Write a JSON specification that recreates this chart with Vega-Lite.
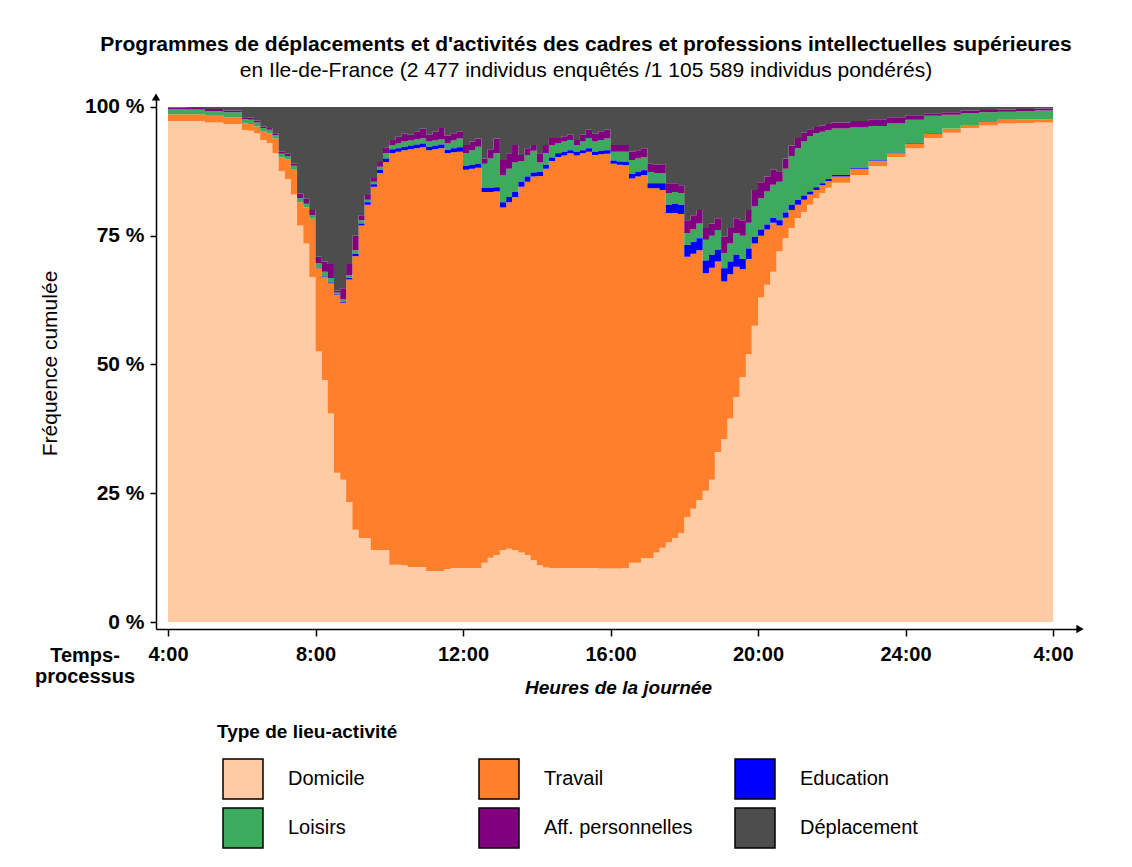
{
"$schema":"https://vega.github.io/schema/vega-lite/v6.json",
"width":924,"height":532,
"autosize":"none",
"padding":{"left":156,"top":97,"right":52,"bottom":238},
"background":"white",
"title":{"text":"Programmes de déplacements et d'activités des cadres et professions intellectuelles supérieures","subtitle":"en Ile-de-France (2 477 individus enquêtés /1 105 589 individus pondérés)","anchor":"middle","frame":"group","dx":-32,"offset":12,"font":"Liberation Sans","fontSize":21,"fontWeight":"bold","color":"black","subtitleFont":"Liberation Sans","subtitleFontSize":21,"subtitleFontWeight":"normal","subtitleColor":"black","subtitlePadding":5},
"config":{"view":{"stroke":null},"font":"Liberation Sans"},
"layer":[
{"data":{"values":[
{"t":4,"c":"Domicile","v":97.3},{"t":4,"c":"Travail","v":1.3},{"t":4,"c":"Loisirs","v":1.0},{"t":4,"c":"Aff. personnelles","v":0.3},{"t":4,"c":"Déplacement","v":0.1},
{"t":4.5,"c":"Domicile","v":97.3},{"t":4.5,"c":"Travail","v":1.3},{"t":4.5,"c":"Loisirs","v":0.9},{"t":4.5,"c":"Aff. personnelles","v":0.3},{"t":4.5,"c":"Déplacement","v":0.2},
{"t":5,"c":"Domicile","v":97.0},{"t":5,"c":"Travail","v":1.3},{"t":5,"c":"Loisirs","v":0.9},{"t":5,"c":"Aff. personnelles","v":0.4},{"t":5,"c":"Déplacement","v":0.4},
{"t":5.5,"c":"Domicile","v":96.7},{"t":5.5,"c":"Travail","v":1.3},{"t":5.5,"c":"Loisirs","v":1.0},{"t":5.5,"c":"Aff. personnelles","v":0.3},{"t":5.5,"c":"Déplacement","v":0.7},
{"t":6,"c":"Domicile","v":95.5},{"t":6,"c":"Travail","v":1.3},{"t":6,"c":"Loisirs","v":0.8},{"t":6,"c":"Aff. personnelles","v":0.4},{"t":6,"c":"Déplacement","v":2.0},
{"t":6.17,"c":"Domicile","v":95.4},{"t":6.17,"c":"Travail","v":1.3},{"t":6.17,"c":"Loisirs","v":0.8},{"t":6.17,"c":"Aff. personnelles","v":0.4},{"t":6.17,"c":"Déplacement","v":2.1},
{"t":6.33,"c":"Domicile","v":94.9},{"t":6.33,"c":"Travail","v":1.3},{"t":6.33,"c":"Loisirs","v":0.8},{"t":6.33,"c":"Aff. personnelles","v":0.4},{"t":6.33,"c":"Déplacement","v":2.6},
{"t":6.5,"c":"Domicile","v":93.6},{"t":6.5,"c":"Travail","v":1.6},{"t":6.5,"c":"Loisirs","v":0.7},{"t":6.5,"c":"Aff. personnelles","v":0.3},{"t":6.5,"c":"Déplacement","v":3.8},
{"t":6.67,"c":"Domicile","v":93.0},{"t":6.67,"c":"Travail","v":1.9},{"t":6.67,"c":"Loisirs","v":0.7},{"t":6.67,"c":"Aff. personnelles","v":0.3},{"t":6.67,"c":"Déplacement","v":4.1},
{"t":6.83,"c":"Domicile","v":91.0},{"t":6.83,"c":"Travail","v":2.9},{"t":6.83,"c":"Loisirs","v":0.6},{"t":6.83,"c":"Aff. personnelles","v":0.4},{"t":6.83,"c":"Déplacement","v":5.1},
{"t":7,"c":"Domicile","v":87.5},{"t":7,"c":"Travail","v":2.7},{"t":7,"c":"Loisirs","v":0.7},{"t":7,"c":"Aff. personnelles","v":0.4},{"t":7,"c":"Déplacement","v":8.7},
{"t":7.17,"c":"Domicile","v":86.0},{"t":7.17,"c":"Travail","v":3.8},{"t":7.17,"c":"Loisirs","v":0.7},{"t":7.17,"c":"Aff. personnelles","v":0.4},{"t":7.17,"c":"Déplacement","v":9.1},
{"t":7.33,"c":"Domicile","v":83.0},{"t":7.33,"c":"Travail","v":4.8},{"t":7.33,"c":"Loisirs","v":0.8},{"t":7.33,"c":"Aff. personnelles","v":0.4},{"t":7.33,"c":"Déplacement","v":11.0},
{"t":7.5,"c":"Domicile","v":77.0},{"t":7.5,"c":"Travail","v":4.5},{"t":7.5,"c":"Loisirs","v":0.8},{"t":7.5,"c":"Aff. personnelles","v":0.9},{"t":7.5,"c":"Déplacement","v":16.8},
{"t":7.67,"c":"Domicile","v":73.5},{"t":7.67,"c":"Travail","v":7.0},{"t":7.67,"c":"Loisirs","v":0.7},{"t":7.67,"c":"Aff. personnelles","v":1.0},{"t":7.67,"c":"Déplacement","v":17.8},
{"t":7.83,"c":"Domicile","v":67.0},{"t":7.83,"c":"Travail","v":11.3},{"t":7.83,"c":"Education","v":0},{"t":7.83,"c":"Loisirs","v":0.7},{"t":7.83,"c":"Aff. personnelles","v":1.0},{"t":7.83,"c":"Déplacement","v":20.0},
{"t":8,"c":"Domicile","v":52.5},{"t":8,"c":"Travail","v":16.2},{"t":8,"c":"Education","v":0.1},{"t":8,"c":"Loisirs","v":0.9},{"t":8,"c":"Aff. personnelles","v":1.2},{"t":8,"c":"Déplacement","v":29.1},
{"t":8.17,"c":"Domicile","v":47.0},{"t":8.17,"c":"Travail","v":20.0},{"t":8.17,"c":"Education","v":0.1},{"t":8.17,"c":"Loisirs","v":0.9},{"t":8.17,"c":"Aff. personnelles","v":2.0},{"t":8.17,"c":"Déplacement","v":30.0},
{"t":8.33,"c":"Domicile","v":40.5},{"t":8.33,"c":"Travail","v":25.3},{"t":8.33,"c":"Education","v":0.1},{"t":8.33,"c":"Loisirs","v":0.9},{"t":8.33,"c":"Aff. personnelles","v":2.7},{"t":8.33,"c":"Déplacement","v":30.5},
{"t":8.5,"c":"Domicile","v":29.0},{"t":8.5,"c":"Travail","v":34.5},{"t":8.5,"c":"Education","v":0.1},{"t":8.5,"c":"Loisirs","v":0.4},{"t":8.5,"c":"Aff. personnelles","v":0.3},{"t":8.5,"c":"Déplacement","v":35.7},
{"t":8.67,"c":"Domicile","v":27.6},{"t":8.67,"c":"Travail","v":34.4},{"t":8.67,"c":"Education","v":0.2},{"t":8.67,"c":"Loisirs","v":0.4},{"t":8.67,"c":"Aff. personnelles","v":2.2},{"t":8.67,"c":"Déplacement","v":35.2},
{"t":8.83,"c":"Domicile","v":23.3},{"t":8.83,"c":"Travail","v":43.2},{"t":8.83,"c":"Education","v":0.3},{"t":8.83,"c":"Loisirs","v":0.6},{"t":8.83,"c":"Aff. personnelles","v":2.1},{"t":8.83,"c":"Déplacement","v":30.5},
{"t":9,"c":"Domicile","v":17.9},{"t":9,"c":"Travail","v":53.1},{"t":9,"c":"Education","v":0.5},{"t":9,"c":"Loisirs","v":0.7},{"t":9,"c":"Aff. personnelles","v":2.8},{"t":9,"c":"Déplacement","v":25.0},
{"t":9.17,"c":"Domicile","v":16.3},{"t":9.17,"c":"Travail","v":60.7},{"t":9.17,"c":"Education","v":0.4},{"t":9.17,"c":"Loisirs","v":0.6},{"t":9.17,"c":"Aff. personnelles","v":1.0},{"t":9.17,"c":"Déplacement","v":21.0},
{"t":9.33,"c":"Domicile","v":16.3},{"t":9.33,"c":"Travail","v":64.7},{"t":9.33,"c":"Education","v":0.5},{"t":9.33,"c":"Loisirs","v":0.5},{"t":9.33,"c":"Aff. personnelles","v":0.9},{"t":9.33,"c":"Déplacement","v":17.1},
{"t":9.5,"c":"Domicile","v":14.0},{"t":9.5,"c":"Travail","v":70.5},{"t":9.5,"c":"Education","v":0.5},{"t":9.5,"c":"Loisirs","v":0.5},{"t":9.5,"c":"Aff. personnelles","v":0.7},{"t":9.5,"c":"Déplacement","v":13.8},
{"t":9.67,"c":"Domicile","v":14.0},{"t":9.67,"c":"Travail","v":73.2},{"t":9.67,"c":"Education","v":0.6},{"t":9.67,"c":"Loisirs","v":0.6},{"t":9.67,"c":"Aff. personnelles","v":0.9},{"t":9.67,"c":"Déplacement","v":10.7},
{"t":9.83,"c":"Domicile","v":14.0},{"t":9.83,"c":"Travail","v":75.3},{"t":9.83,"c":"Education","v":0.7},{"t":9.83,"c":"Loisirs","v":1.0},{"t":9.83,"c":"Aff. personnelles","v":1.2},{"t":9.83,"c":"Déplacement","v":7.8},
{"t":10,"c":"Domicile","v":11.1},{"t":10,"c":"Travail","v":79.9},{"t":10,"c":"Education","v":0.8},{"t":10,"c":"Loisirs","v":0.8},{"t":10,"c":"Aff. personnelles","v":1.0},{"t":10,"c":"Déplacement","v":6.4},
{"t":10.17,"c":"Domicile","v":11.1},{"t":10.17,"c":"Travail","v":80.2},{"t":10.17,"c":"Education","v":0.7},{"t":10.17,"c":"Loisirs","v":0.9},{"t":10.17,"c":"Aff. personnelles","v":1.3},{"t":10.17,"c":"Déplacement","v":5.8},
{"t":10.33,"c":"Domicile","v":11.0},{"t":10.33,"c":"Travail","v":80.6},{"t":10.33,"c":"Education","v":0.7},{"t":10.33,"c":"Loisirs","v":1.0},{"t":10.33,"c":"Aff. personnelles","v":1.5},{"t":10.33,"c":"Déplacement","v":5.2},
{"t":10.5,"c":"Domicile","v":10.7},{"t":10.5,"c":"Travail","v":81.1},{"t":10.5,"c":"Education","v":0.7},{"t":10.5,"c":"Loisirs","v":1.0},{"t":10.5,"c":"Aff. personnelles","v":1.1},{"t":10.5,"c":"Déplacement","v":5.4},
{"t":10.67,"c":"Domicile","v":10.7},{"t":10.67,"c":"Travail","v":81.3},{"t":10.67,"c":"Education","v":0.7},{"t":10.67,"c":"Loisirs","v":1.0},{"t":10.67,"c":"Aff. personnelles","v":1.5},{"t":10.67,"c":"Déplacement","v":4.8},
{"t":10.83,"c":"Domicile","v":10.7},{"t":10.83,"c":"Travail","v":81.5},{"t":10.83,"c":"Education","v":0.7},{"t":10.83,"c":"Loisirs","v":1.0},{"t":10.83,"c":"Aff. personnelles","v":1.9},{"t":10.83,"c":"Déplacement","v":4.2},
{"t":11,"c":"Domicile","v":9.9},{"t":11,"c":"Travail","v":81.7},{"t":11,"c":"Education","v":0.7},{"t":11,"c":"Loisirs","v":1.0},{"t":11,"c":"Aff. personnelles","v":1.3},{"t":11,"c":"Déplacement","v":5.4},
{"t":11.17,"c":"Domicile","v":9.9},{"t":11.17,"c":"Travail","v":81.9},{"t":11.17,"c":"Education","v":0.7},{"t":11.17,"c":"Loisirs","v":1.0},{"t":11.17,"c":"Aff. personnelles","v":1.7},{"t":11.17,"c":"Déplacement","v":4.8},
{"t":11.33,"c":"Domicile","v":9.9},{"t":11.33,"c":"Travail","v":82.1},{"t":11.33,"c":"Education","v":0.7},{"t":11.33,"c":"Loisirs","v":1.0},{"t":11.33,"c":"Aff. personnelles","v":2.2},{"t":11.33,"c":"Déplacement","v":4.1},
{"t":11.5,"c":"Domicile","v":10.3},{"t":11.5,"c":"Travail","v":80.7},{"t":11.5,"c":"Education","v":0.7},{"t":11.5,"c":"Loisirs","v":1.3},{"t":11.5,"c":"Aff. personnelles","v":1.4},{"t":11.5,"c":"Déplacement","v":5.6},
{"t":11.67,"c":"Domicile","v":10.5},{"t":11.67,"c":"Travail","v":80.7},{"t":11.67,"c":"Education","v":0.8},{"t":11.67,"c":"Loisirs","v":1.5},{"t":11.67,"c":"Aff. personnelles","v":1.4},{"t":11.67,"c":"Déplacement","v":5.1},
{"t":11.83,"c":"Domicile","v":10.5},{"t":11.83,"c":"Travail","v":80.8},{"t":11.83,"c":"Education","v":0.9},{"t":11.83,"c":"Loisirs","v":1.7},{"t":11.83,"c":"Aff. personnelles","v":1.3},{"t":11.83,"c":"Déplacement","v":4.8},
{"t":12,"c":"Domicile","v":10.5},{"t":12,"c":"Travail","v":77.3},{"t":12,"c":"Education","v":0.8},{"t":12,"c":"Loisirs","v":2.4},{"t":12,"c":"Aff. personnelles","v":1.6},{"t":12,"c":"Déplacement","v":7.4},
{"t":12.17,"c":"Domicile","v":10.5},{"t":12.17,"c":"Travail","v":77.5},{"t":12.17,"c":"Education","v":0.8},{"t":12.17,"c":"Loisirs","v":2.8},{"t":12.17,"c":"Aff. personnelles","v":1.7},{"t":12.17,"c":"Déplacement","v":6.7},
{"t":12.33,"c":"Domicile","v":10.5},{"t":12.33,"c":"Travail","v":77.7},{"t":12.33,"c":"Education","v":0.8},{"t":12.33,"c":"Loisirs","v":3.3},{"t":12.33,"c":"Aff. personnelles","v":1.6},{"t":12.33,"c":"Déplacement","v":6.1},
{"t":12.5,"c":"Domicile","v":11.5},{"t":12.5,"c":"Travail","v":72.0},{"t":12.5,"c":"Education","v":0.8},{"t":12.5,"c":"Loisirs","v":4.7},{"t":12.5,"c":"Aff. personnelles","v":1.0},{"t":12.5,"c":"Déplacement","v":10.0},
{"t":12.67,"c":"Domicile","v":12.5},{"t":12.67,"c":"Travail","v":71.0},{"t":12.67,"c":"Education","v":0.8},{"t":12.67,"c":"Loisirs","v":5.7},{"t":12.67,"c":"Aff. personnelles","v":1.8},{"t":12.67,"c":"Déplacement","v":8.2},
{"t":12.83,"c":"Domicile","v":13.0},{"t":12.83,"c":"Travail","v":70.6},{"t":12.83,"c":"Education","v":0.8},{"t":12.83,"c":"Loisirs","v":6.6},{"t":12.83,"c":"Aff. personnelles","v":2.9},{"t":12.83,"c":"Déplacement","v":6.1},
{"t":13,"c":"Domicile","v":14.0},{"t":13,"c":"Travail","v":66.5},{"t":13,"c":"Education","v":1.0},{"t":13,"c":"Loisirs","v":5.3},{"t":13,"c":"Aff. personnelles","v":2.9},{"t":13,"c":"Déplacement","v":10.3},
{"t":13.17,"c":"Domicile","v":14.2},{"t":13.17,"c":"Travail","v":67.3},{"t":13.17,"c":"Education","v":1.0},{"t":13.17,"c":"Loisirs","v":5.5},{"t":13.17,"c":"Aff. personnelles","v":3.0},{"t":13.17,"c":"Déplacement","v":9.0},
{"t":13.33,"c":"Domicile","v":14.0},{"t":13.33,"c":"Travail","v":68.5},{"t":13.33,"c":"Education","v":1.0},{"t":13.33,"c":"Loisirs","v":5.7},{"t":13.33,"c":"Aff. personnelles","v":3.4},{"t":13.33,"c":"Déplacement","v":7.4},
{"t":13.5,"c":"Domicile","v":13.5},{"t":13.5,"c":"Travail","v":71.0},{"t":13.5,"c":"Education","v":1.0},{"t":13.5,"c":"Loisirs","v":4.0},{"t":13.5,"c":"Aff. personnelles","v":1.2},{"t":13.5,"c":"Déplacement","v":9.3},
{"t":13.67,"c":"Domicile","v":13.0},{"t":13.67,"c":"Travail","v":72.5},{"t":13.67,"c":"Education","v":1.0},{"t":13.67,"c":"Loisirs","v":4.2},{"t":13.67,"c":"Aff. personnelles","v":1.3},{"t":13.67,"c":"Déplacement","v":8.0},
{"t":13.83,"c":"Domicile","v":12.0},{"t":13.83,"c":"Travail","v":74.5},{"t":13.83,"c":"Education","v":0.8},{"t":13.83,"c":"Loisirs","v":4.2},{"t":13.83,"c":"Aff. personnelles","v":1.1},{"t":13.83,"c":"Déplacement","v":7.4},
{"t":14,"c":"Domicile","v":11.0},{"t":14,"c":"Travail","v":75.6},{"t":14,"c":"Education","v":0.8},{"t":14,"c":"Loisirs","v":1.8},{"t":14,"c":"Aff. personnelles","v":1.8},{"t":14,"c":"Déplacement","v":9.0},
{"t":14.17,"c":"Domicile","v":10.6},{"t":14.17,"c":"Travail","v":77.4},{"t":14.17,"c":"Education","v":0.8},{"t":14.17,"c":"Loisirs","v":2.2},{"t":14.17,"c":"Aff. personnelles","v":1.6},{"t":14.17,"c":"Déplacement","v":7.4},
{"t":14.33,"c":"Domicile","v":10.5},{"t":14.33,"c":"Travail","v":79.0},{"t":14.33,"c":"Education","v":0.7},{"t":14.33,"c":"Loisirs","v":2.4},{"t":14.33,"c":"Aff. personnelles","v":1.4},{"t":14.33,"c":"Déplacement","v":6.0},
{"t":14.5,"c":"Domicile","v":10.5},{"t":14.5,"c":"Travail","v":79.8},{"t":14.5,"c":"Education","v":0.7},{"t":14.5,"c":"Loisirs","v":2.0},{"t":14.5,"c":"Aff. personnelles","v":1.0},{"t":14.5,"c":"Déplacement","v":6.0},
{"t":14.67,"c":"Domicile","v":10.5},{"t":14.67,"c":"Travail","v":80.1},{"t":14.67,"c":"Education","v":0.7},{"t":14.67,"c":"Loisirs","v":2.0},{"t":14.67,"c":"Aff. personnelles","v":1.0},{"t":14.67,"c":"Déplacement","v":5.7},
{"t":14.83,"c":"Domicile","v":10.5},{"t":14.83,"c":"Travail","v":80.5},{"t":14.83,"c":"Education","v":0.6},{"t":14.83,"c":"Loisirs","v":2.0},{"t":14.83,"c":"Aff. personnelles","v":1.0},{"t":14.83,"c":"Déplacement","v":5.4},
{"t":15,"c":"Domicile","v":10.5},{"t":15,"c":"Travail","v":80.1},{"t":15,"c":"Education","v":0.7},{"t":15,"c":"Loisirs","v":1.3},{"t":15,"c":"Aff. personnelles","v":1.0},{"t":15,"c":"Déplacement","v":6.4},
{"t":15.17,"c":"Domicile","v":10.5},{"t":15.17,"c":"Travail","v":80.5},{"t":15.17,"c":"Education","v":0.6},{"t":15.17,"c":"Loisirs","v":1.7},{"t":15.17,"c":"Aff. personnelles","v":1.3},{"t":15.17,"c":"Déplacement","v":5.4},
{"t":15.33,"c":"Domicile","v":10.5},{"t":15.33,"c":"Travail","v":80.8},{"t":15.33,"c":"Education","v":0.7},{"t":15.33,"c":"Loisirs","v":2.0},{"t":15.33,"c":"Aff. personnelles","v":1.6},{"t":15.33,"c":"Déplacement","v":4.4},
{"t":15.5,"c":"Domicile","v":10.5},{"t":15.5,"c":"Travail","v":80.2},{"t":15.5,"c":"Education","v":0.6},{"t":15.5,"c":"Loisirs","v":2.0},{"t":15.5,"c":"Aff. personnelles","v":1.5},{"t":15.5,"c":"Déplacement","v":5.2},
{"t":15.67,"c":"Domicile","v":10.4},{"t":15.67,"c":"Travail","v":80.4},{"t":15.67,"c":"Education","v":0.7},{"t":15.67,"c":"Loisirs","v":2.1},{"t":15.67,"c":"Aff. personnelles","v":1.7},{"t":15.67,"c":"Déplacement","v":4.7},
{"t":15.83,"c":"Domicile","v":10.4},{"t":15.83,"c":"Travail","v":80.5},{"t":15.83,"c":"Education","v":0.7},{"t":15.83,"c":"Loisirs","v":2.3},{"t":15.83,"c":"Aff. personnelles","v":1.7},{"t":15.83,"c":"Déplacement","v":4.4},
{"t":16,"c":"Domicile","v":10.4},{"t":16,"c":"Travail","v":78.6},{"t":16,"c":"Education","v":0.6},{"t":16,"c":"Loisirs","v":1.7},{"t":16,"c":"Aff. personnelles","v":1.3},{"t":16,"c":"Déplacement","v":7.4},
{"t":16.17,"c":"Domicile","v":10.4},{"t":16.17,"c":"Travail","v":78.4},{"t":16.17,"c":"Education","v":0.6},{"t":16.17,"c":"Loisirs","v":1.9},{"t":16.17,"c":"Aff. personnelles","v":1.3},{"t":16.17,"c":"Déplacement","v":7.4},
{"t":16.33,"c":"Domicile","v":10.5},{"t":16.33,"c":"Travail","v":78.2},{"t":16.33,"c":"Education","v":0.6},{"t":16.33,"c":"Loisirs","v":2.0},{"t":16.33,"c":"Aff. personnelles","v":1.3},{"t":16.33,"c":"Déplacement","v":7.4},
{"t":16.5,"c":"Domicile","v":11.5},{"t":16.5,"c":"Travail","v":74.6},{"t":16.5,"c":"Education","v":0.9},{"t":16.5,"c":"Loisirs","v":2.7},{"t":16.5,"c":"Aff. personnelles","v":1.6},{"t":16.5,"c":"Déplacement","v":8.7},
{"t":16.67,"c":"Domicile","v":11.5},{"t":16.67,"c":"Travail","v":75.0},{"t":16.67,"c":"Education","v":0.9},{"t":16.67,"c":"Loisirs","v":2.6},{"t":16.67,"c":"Aff. personnelles","v":1.6},{"t":16.67,"c":"Déplacement","v":8.4},
{"t":16.83,"c":"Domicile","v":12.4},{"t":16.83,"c":"Travail","v":74.4},{"t":16.83,"c":"Education","v":0.9},{"t":16.83,"c":"Loisirs","v":2.6},{"t":16.83,"c":"Aff. personnelles","v":1.7},{"t":16.83,"c":"Déplacement","v":8.0},
{"t":17,"c":"Domicile","v":12.4},{"t":17,"c":"Travail","v":71.8},{"t":17,"c":"Education","v":1.0},{"t":17,"c":"Loisirs","v":2.2},{"t":17,"c":"Aff. personnelles","v":1.6},{"t":17,"c":"Déplacement","v":11.0},
{"t":17.17,"c":"Domicile","v":13.5},{"t":17.17,"c":"Travail","v":70.7},{"t":17.17,"c":"Education","v":1.0},{"t":17.17,"c":"Loisirs","v":2.0},{"t":17.17,"c":"Aff. personnelles","v":1.6},{"t":17.17,"c":"Déplacement","v":11.2},
{"t":17.33,"c":"Domicile","v":14.4},{"t":17.33,"c":"Travail","v":69.5},{"t":17.33,"c":"Education","v":1.3},{"t":17.33,"c":"Loisirs","v":1.9},{"t":17.33,"c":"Aff. personnelles","v":1.8},{"t":17.33,"c":"Déplacement","v":11.1},
{"t":17.5,"c":"Domicile","v":15.5},{"t":17.5,"c":"Travail","v":63.9},{"t":17.5,"c":"Education","v":1.6},{"t":17.5,"c":"Loisirs","v":2.3},{"t":17.5,"c":"Aff. personnelles","v":1.9},{"t":17.5,"c":"Déplacement","v":14.8},
{"t":17.67,"c":"Domicile","v":16.3},{"t":17.67,"c":"Travail","v":63.1},{"t":17.67,"c":"Education","v":1.8},{"t":17.67,"c":"Loisirs","v":2.3},{"t":17.67,"c":"Aff. personnelles","v":1.7},{"t":17.67,"c":"Déplacement","v":14.8},
{"t":17.83,"c":"Domicile","v":17.3},{"t":17.83,"c":"Travail","v":61.9},{"t":17.83,"c":"Education","v":1.8},{"t":17.83,"c":"Loisirs","v":2.3},{"t":17.83,"c":"Aff. personnelles","v":1.5},{"t":17.83,"c":"Déplacement","v":15.2},
{"t":18,"c":"Domicile","v":20.4},{"t":18,"c":"Travail","v":50.5},{"t":18,"c":"Education","v":2.3},{"t":18,"c":"Loisirs","v":2.3},{"t":18,"c":"Aff. personnelles","v":2.5},{"t":18,"c":"Déplacement","v":22.0},
{"t":18.17,"c":"Domicile","v":22.0},{"t":18.17,"c":"Travail","v":49.5},{"t":18.17,"c":"Education","v":2.3},{"t":18.17,"c":"Loisirs","v":2.5},{"t":18.17,"c":"Aff. personnelles","v":2.7},{"t":18.17,"c":"Déplacement","v":21.0},
{"t":18.33,"c":"Domicile","v":23.7},{"t":18.33,"c":"Travail","v":48.5},{"t":18.33,"c":"Education","v":2.3},{"t":18.33,"c":"Loisirs","v":2.9},{"t":18.33,"c":"Aff. personnelles","v":2.6},{"t":18.33,"c":"Déplacement","v":20.0},
{"t":18.5,"c":"Domicile","v":25.5},{"t":18.5,"c":"Travail","v":42.2},{"t":18.5,"c":"Education","v":2.5},{"t":18.5,"c":"Loisirs","v":4.0},{"t":18.5,"c":"Aff. personnelles","v":2.3},{"t":18.5,"c":"Déplacement","v":23.5},
{"t":18.67,"c":"Domicile","v":27.6},{"t":18.67,"c":"Travail","v":41.2},{"t":18.67,"c":"Education","v":2.5},{"t":18.67,"c":"Loisirs","v":3.7},{"t":18.67,"c":"Aff. personnelles","v":2.4},{"t":18.67,"c":"Déplacement","v":22.6},
{"t":18.83,"c":"Domicile","v":33.0},{"t":18.83,"c":"Travail","v":37.0},{"t":18.83,"c":"Education","v":2.3},{"t":18.83,"c":"Loisirs","v":3.8},{"t":18.83,"c":"Aff. personnelles","v":2.3},{"t":18.83,"c":"Déplacement","v":21.6},
{"t":19,"c":"Domicile","v":35.5},{"t":19,"c":"Travail","v":30.6},{"t":19,"c":"Education","v":2.6},{"t":19,"c":"Loisirs","v":2.9},{"t":19,"c":"Aff. personnelles","v":3.2},{"t":19,"c":"Déplacement","v":25.2},
{"t":19.17,"c":"Domicile","v":39.5},{"t":19.17,"c":"Travail","v":28.0},{"t":19.17,"c":"Education","v":2.5},{"t":19.17,"c":"Loisirs","v":3.5},{"t":19.17,"c":"Aff. personnelles","v":3.0},{"t":19.17,"c":"Déplacement","v":23.5},
{"t":19.33,"c":"Domicile","v":43.7},{"t":19.33,"c":"Travail","v":25.3},{"t":19.33,"c":"Education","v":2.3},{"t":19.33,"c":"Loisirs","v":4.2},{"t":19.33,"c":"Aff. personnelles","v":2.9},{"t":19.33,"c":"Déplacement","v":21.6},
{"t":19.5,"c":"Domicile","v":47.5},{"t":19.5,"c":"Travail","v":21.0},{"t":19.5,"c":"Education","v":2.0},{"t":19.5,"c":"Loisirs","v":4.5},{"t":19.5,"c":"Aff. personnelles","v":3.0},{"t":19.5,"c":"Déplacement","v":22.0},
{"t":19.67,"c":"Domicile","v":52.0},{"t":19.67,"c":"Travail","v":18.5},{"t":19.67,"c":"Education","v":2.0},{"t":19.67,"c":"Loisirs","v":5.0},{"t":19.67,"c":"Aff. personnelles","v":2.5},{"t":19.67,"c":"Déplacement","v":20.0},
{"t":19.83,"c":"Domicile","v":57.5},{"t":19.83,"c":"Travail","v":16.0},{"t":19.83,"c":"Education","v":1.3},{"t":19.83,"c":"Loisirs","v":5.9},{"t":19.83,"c":"Aff. personnelles","v":3.2},{"t":19.83,"c":"Déplacement","v":16.1},
{"t":20,"c":"Domicile","v":63.0},{"t":20,"c":"Travail","v":12.0},{"t":20,"c":"Education","v":1.2},{"t":20,"c":"Loisirs","v":6.1},{"t":20,"c":"Aff. personnelles","v":3.1},{"t":20,"c":"Déplacement","v":14.6},
{"t":20.17,"c":"Domicile","v":65.5},{"t":20.17,"c":"Travail","v":10.7},{"t":20.17,"c":"Education","v":1.0},{"t":20.17,"c":"Loisirs","v":6.4},{"t":20.17,"c":"Aff. personnelles","v":2.9},{"t":20.17,"c":"Déplacement","v":13.5},
{"t":20.33,"c":"Domicile","v":68.0},{"t":20.33,"c":"Travail","v":9.5},{"t":20.33,"c":"Education","v":1.0},{"t":20.33,"c":"Loisirs","v":6.4},{"t":20.33,"c":"Aff. personnelles","v":2.9},{"t":20.33,"c":"Déplacement","v":12.2},
{"t":20.5,"c":"Domicile","v":72.0},{"t":20.5,"c":"Travail","v":5.0},{"t":20.5,"c":"Education","v":1.0},{"t":20.5,"c":"Loisirs","v":7.5},{"t":20.5,"c":"Aff. personnelles","v":2.0},{"t":20.5,"c":"Déplacement","v":12.5},
{"t":20.67,"c":"Domicile","v":74.5},{"t":20.67,"c":"Travail","v":4.0},{"t":20.67,"c":"Education","v":1.0},{"t":20.67,"c":"Loisirs","v":8.5},{"t":20.67,"c":"Aff. personnelles","v":2.0},{"t":20.67,"c":"Déplacement","v":10.0},
{"t":20.83,"c":"Domicile","v":76.5},{"t":20.83,"c":"Travail","v":3.5},{"t":20.83,"c":"Education","v":1.0},{"t":20.83,"c":"Loisirs","v":9.5},{"t":20.83,"c":"Aff. personnelles","v":2.0},{"t":20.83,"c":"Déplacement","v":7.5},
{"t":21,"c":"Domicile","v":78.4},{"t":21,"c":"Travail","v":2.6},{"t":21,"c":"Education","v":1.0},{"t":21,"c":"Loisirs","v":10.0},{"t":21,"c":"Aff. personnelles","v":2.0},{"t":21,"c":"Déplacement","v":6.0},
{"t":21.17,"c":"Domicile","v":79.6},{"t":21.17,"c":"Travail","v":2.4},{"t":21.17,"c":"Education","v":0.8},{"t":21.17,"c":"Loisirs","v":10.5},{"t":21.17,"c":"Aff. personnelles","v":1.7},{"t":21.17,"c":"Déplacement","v":5.0},
{"t":21.33,"c":"Domicile","v":81.0},{"t":21.33,"c":"Travail","v":2.0},{"t":21.33,"c":"Education","v":0.6},{"t":21.33,"c":"Loisirs","v":10.7},{"t":21.33,"c":"Aff. personnelles","v":1.4},{"t":21.33,"c":"Déplacement","v":4.3},
{"t":21.5,"c":"Domicile","v":82.3},{"t":21.5,"c":"Travail","v":1.6},{"t":21.5,"c":"Education","v":0.5},{"t":21.5,"c":"Loisirs","v":10.5},{"t":21.5,"c":"Aff. personnelles","v":1.2},{"t":21.5,"c":"Déplacement","v":3.9},
{"t":21.67,"c":"Domicile","v":83.3},{"t":21.67,"c":"Travail","v":1.5},{"t":21.67,"c":"Education","v":0.4},{"t":21.67,"c":"Loisirs","v":10.0},{"t":21.67,"c":"Aff. personnelles","v":1.2},{"t":21.67,"c":"Déplacement","v":3.6},
{"t":21.83,"c":"Domicile","v":84.3},{"t":21.83,"c":"Travail","v":1.3},{"t":21.83,"c":"Education","v":0.4},{"t":21.83,"c":"Loisirs","v":9.5},{"t":21.83,"c":"Aff. personnelles","v":1.2},{"t":21.83,"c":"Déplacement","v":3.3},
{"t":22,"c":"Domicile","v":85.3},{"t":22,"c":"Travail","v":1.2},{"t":22,"c":"Education","v":0.3},{"t":22,"c":"Loisirs","v":9.0},{"t":22,"c":"Aff. personnelles","v":1.2},{"t":22,"c":"Déplacement","v":3.0},
{"t":22.5,"c":"Domicile","v":86.8},{"t":22.5,"c":"Travail","v":1.2},{"t":22.5,"c":"Education","v":0.2},{"t":22.5,"c":"Loisirs","v":7.8},{"t":22.5,"c":"Aff. personnelles","v":1.3},{"t":22.5,"c":"Déplacement","v":2.7},
{"t":23,"c":"Domicile","v":88.5},{"t":23,"c":"Travail","v":1.0},{"t":23,"c":"Education","v":0.1},{"t":23,"c":"Loisirs","v":6.7},{"t":23,"c":"Aff. personnelles","v":1.3},{"t":23,"c":"Déplacement","v":2.4},
{"t":23.5,"c":"Domicile","v":90.3},{"t":23.5,"c":"Travail","v":0.7},{"t":23.5,"c":"Education","v":0.1},{"t":23.5,"c":"Loisirs","v":5.7},{"t":23.5,"c":"Aff. personnelles","v":1.2},{"t":23.5,"c":"Déplacement","v":2.0},
{"t":24,"c":"Domicile","v":92.0},{"t":24,"c":"Travail","v":0.8},{"t":24,"c":"Education","v":0.1},{"t":24,"c":"Loisirs","v":4.6},{"t":24,"c":"Aff. personnelles","v":0.9},{"t":24,"c":"Déplacement","v":1.6},
{"t":24.5,"c":"Domicile","v":94.0},{"t":24.5,"c":"Travail","v":0.8},{"t":24.5,"c":"Education","v":0.1},{"t":24.5,"c":"Loisirs","v":3.4},{"t":24.5,"c":"Aff. personnelles","v":0.5},{"t":24.5,"c":"Déplacement","v":1.2},
{"t":25,"c":"Domicile","v":95.0},{"t":25,"c":"Travail","v":0.8},{"t":25,"c":"Education","v":0},{"t":25,"c":"Loisirs","v":2.7},{"t":25,"c":"Aff. personnelles","v":0.5},{"t":25,"c":"Déplacement","v":1.0},
{"t":25.5,"c":"Domicile","v":95.9},{"t":25.5,"c":"Travail","v":0.6},{"t":25.5,"c":"Loisirs","v":2.3},{"t":25.5,"c":"Aff. personnelles","v":0.5},{"t":25.5,"c":"Déplacement","v":0.7},
{"t":26,"c":"Domicile","v":96.4},{"t":26,"c":"Travail","v":0.7},{"t":26,"c":"Loisirs","v":1.9},{"t":26,"c":"Aff. personnelles","v":0.4},{"t":26,"c":"Déplacement","v":0.6},
{"t":26.5,"c":"Domicile","v":96.8},{"t":26.5,"c":"Travail","v":0.7},{"t":26.5,"c":"Loisirs","v":1.6},{"t":26.5,"c":"Aff. personnelles","v":0.4},{"t":26.5,"c":"Déplacement","v":0.5},
{"t":27,"c":"Domicile","v":96.9},{"t":27,"c":"Travail","v":0.7},{"t":27,"c":"Loisirs","v":1.6},{"t":27,"c":"Aff. personnelles","v":0.4},{"t":27,"c":"Déplacement","v":0.4},
{"t":27.5,"c":"Domicile","v":97.0},{"t":27.5,"c":"Travail","v":0.6},{"t":27.5,"c":"Loisirs","v":1.7},{"t":27.5,"c":"Aff. personnelles","v":0.4},{"t":27.5,"c":"Déplacement","v":0.3},
{"t":28,"c":"Domicile","v":97.0},{"t":28,"c":"Travail","v":0.6},{"t":28,"c":"Loisirs","v":1.7},{"t":28,"c":"Aff. personnelles","v":0.4},{"t":28,"c":"Déplacement","v":0.3}
]},
"transform":[{"lookup":"c","from":{"data":{"values":[{"c":"Domicile","k":1},{"c":"Travail","k":2},{"c":"Education","k":3},{"c":"Loisirs","k":4},{"c":"Aff. personnelles","k":5},{"c":"Déplacement","k":6}]},"key":"c","fields":["k"]}}],
"mark":{"type":"area","interpolate":"step-after","opacity":1},
"encoding":{
"x":{"field":"t","type":"quantitative","scale":{"domain":[3.6746,28.732],"nice":false,"zero":false},
"axis":{"values":[4,8,12,16,20,24,28],"labelExpr":"(datum.value > 24 ? datum.value - 24 : datum.value) + ':00'","title":"Heures de la journée","titleFontStyle":"italic","titleFontWeight":"bold","titleFontSize":19,"titlePadding":14,"titleColor":"black","labelFontSize":20,"labelFontWeight":"bold","labelColor":"black","labelPadding":8,"labelFlush":false,"labelOverlap":false,"tickSize":7,"tickWidth":1.5,"tickColor":"black","domainColor":"black","domainWidth":1.5,"grid":false}},
"y":{"field":"v","type":"quantitative","stack":"zero","scale":{"domain":[-1.359,101.94],"nice":false,"zero":false},
"axis":{"values":[0,25,50,75,100],"labelExpr":"datum.value + ' %'","title":"Fréquence cumulée","titleFontWeight":"normal","titleFontSize":21,"titlePadding":24,"titleColor":"black","labelFontSize":21,"labelFontWeight":"bold","labelColor":"black","labelPadding":6,"labelFlush":false,"labelOverlap":false,"tickSize":6,"tickWidth":1.5,"tickColor":"black","domainColor":"black","domainWidth":1.5,"grid":false}},
"color":{"field":"c","type":"nominal","scale":{"domain":["Domicile","Travail","Education","Loisirs","Aff. personnelles","Déplacement"],"range":["#FFCBA4","#FF7F2A","#0000FF","#3DAA5D","#800080","#4D4D4D"]},
"legend":{"title":"Type de lieu-activité","orient":"none","legendX":61,"legendY":626,"direction":"horizontal","columns":3,"gridAlign":"all","columnPadding":36,"rowPadding":3,"symbolType":"square","symbolSize":1600,"symbolStrokeColor":"black","symbolStrokeWidth":1.5,"symbolOffset":5,"labelFontSize":20,"labelOffset":24,"labelColor":"black","labelLimit":300,"titleFontSize":19,"titleFontWeight":"bold","titleColor":"black","titlePadding":16,"titleLimit":500,"padding":0}},
"order":{"field":"k","type":"quantitative"}
}},
{"data":{"values":[{}]},"mark":{"type":"point","shape":"triangle-up","filled":true,"color":"black","size":70,"opacity":1},"encoding":{"x":{"datum":3.6746,"type":"quantitative"},"y":{"datum":101.94,"type":"quantitative"}}},
{"data":{"values":[{}]},"mark":{"type":"point","shape":"triangle-right","filled":true,"color":"black","size":70,"opacity":1},"encoding":{"x":{"datum":28.732,"type":"quantitative"},"y":{"datum":-1.359,"type":"quantitative"}}},
{"data":{"values":[{}]},"mark":{"type":"text","text":["Temps-","processus"],"align":"center","baseline":"top","dx":-71,"dy":17,"font":"Liberation Sans","fontSize":20,"fontWeight":"bold","lineHeight":21,"color":"black"},"encoding":{"x":{"datum":3.6746,"type":"quantitative"},"y":{"datum":-1.359,"type":"quantitative"}}}
]
}
